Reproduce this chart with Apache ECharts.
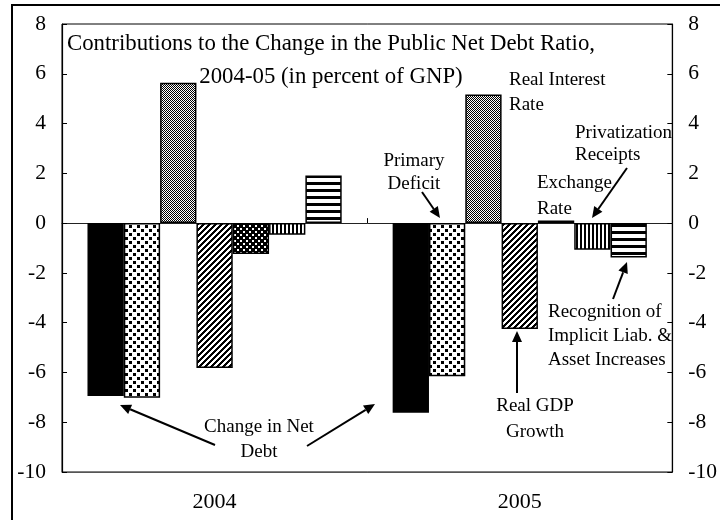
<!DOCTYPE html>
<html><head><meta charset="utf-8">
<script src="https://cdn.jsdelivr.net/npm/echarts@6/dist/echarts.min.js"></script>
<style>html,body{margin:0;padding:0;background:#fff}#c{width:720px;height:520px}</style>
</head><body><div id="c"></div>
<script>
// ---- data ----
const categories = ['2004', '2005'];
const changeInNetDebt = [-6.95, -7.62];
const primaryDeficit = [-7.02, -6.15];
const realInterestRate = [5.64, 5.17];
const realGDPGrowth = [-5.82, -4.25];
const exchangeRate = [-1.24, 0.1];
const privatizationReceipts = [-0.47, -1.07];
const recognitionImplicit = [1.91, -1.38];
const yMin = -10, yMax = 8, yStep = 2;

// ---- patterns ----
function pat(w, h, fn, bg, fg) {
  const c = document.createElement('canvas'); c.width = w; c.height = h;
  const g = c.getContext('2d');
  g.fillStyle = bg || '#fff'; g.fillRect(0, 0, w, h);
  g.fillStyle = fg || '#000';
  for (let y = 0; y < h; y++) for (let x = 0; x < w; x++) if (fn(x, y)) g.fillRect(x, y, 1, 1);
  return { image: c, repeat: 'repeat' };
}
const P = {
  solid: '#000',
  dots: pat(8, 8, (x, y) => (x >= 1 && x <= 3 && y >= 1 && y <= 3) || (x >= 5 && x <= 7 && y >= 5 && y <= 7)),
  checker: pat(2, 2, (x, y) => (x + y) % 2 === 0),
  diag: pat(6, 6, (x, y) => ((x + y) % 6) < 3),
  dense: pat(6, 6, (x, y) => !((x <= 1 && y <= 1) || (x >= 3 && x <= 4 && y >= 3 && y <= 4))),
  vert: pat(4, 1, (x, y) => x < 2),
  horiz: pat(1, 7, (x, y) => y < 3)
};

const FONT = '"Liberation Serif", "Times New Roman", serif';
function mk(name, data, color) {
  return {
    name, type: 'bar', data, xAxisIndex: 0, yAxisIndex: 0,
    barGap: '0%', barCategoryGap: '16.7%',
    itemStyle: { color, borderColor: '#000', borderWidth: 1.5 }
  };
}

function arrow(x1, y1, x2, y2) {
  const a = Math.atan2(y2 - y1, x2 - x1), L = 11, W = 5;
  const bx = x2 - L * Math.cos(a), by = y2 - L * Math.sin(a);
  const px = -Math.sin(a), py = Math.cos(a);
  return [
    { type: 'line', z: 50, shape: { x1, y1, x2: bx, y2: by }, style: { stroke: '#000', lineWidth: 2 } },
    { type: 'polygon', z: 50, shape: { points: [[x2, y2], [bx + W * px, by + W * py], [bx - W * px, by - W * py]] }, style: { fill: '#000' } }
  ];
}
function txt(text, x, y, align, size, lh) {
  return { type: 'text', z: 50, x, y, style: { text, font: size + 'px ' + FONT, fill: '#000', align, verticalAlign: 'top', lineHeight: lh } };
}

const chart = echarts.init(document.getElementById('c'), null, { renderer: 'canvas' });
const yAxisBase = {
  type: 'value', min: yMin, max: yMax, interval: yStep,
  axisLine: { show: true, lineStyle: { color: '#000', width: 1.2 } },
  axisTick: { show: true, inside: true, length: 5, lineStyle: { color: '#000' } },
  splitLine: { show: false },
  axisLabel: { color: '#000', fontFamily: FONT, fontSize: 21.5, margin: 16 }
};
chart.setOption({
  animation: false,
  backgroundColor: '#fff',
  grid: { left: 62, right: 47, top: 24, bottom: 48, show: true, borderColor: '#000', borderWidth: 1, backgroundColor: 'transparent' },
  xAxis: [
    { type: 'category', data: categories, position: 'bottom',
      axisLine: { onZero: false, lineStyle: { color: '#555' } }, axisTick: { show: false },
      axisLabel: { color: '#000', fontFamily: FONT, fontSize: 22, margin: 19 } },
    { type: 'category', data: categories, position: 'bottom',
      axisLine: { onZero: true, lineStyle: { color: '#222' } },
      axisTick: { show: true, inside: true, length: 5, lineStyle: { color: '#000' } },
      axisLabel: { show: false } }
  ],
  yAxis: [
    Object.assign({}, yAxisBase, { position: 'left' }),
    Object.assign({}, yAxisBase, { position: 'right' })
  ],
  series: [
    mk('Change in Net Debt', changeInNetDebt, P.solid),
    mk('Primary Deficit', primaryDeficit, P.dots),
    mk('Real Interest Rate', realInterestRate, P.checker),
    mk('Real GDP Growth', realGDPGrowth, P.diag),
    mk('Exchange Rate', exchangeRate, P.dense),
    mk('Privatization Receipts', privatizationReceipts, P.vert),
    mk('Recognition of Implicit Liab. & Asset Increases', recognitionImplicit, P.horiz)
  ],
  graphic: [
    { type: 'rect', z: 60, shape: { x: 12, y: 5, width: 740, height: 560 }, style: { fill: 'none', stroke: '#000', lineWidth: 2 } },
    txt('Contributions to the Change in the Public Net Debt Ratio,\n2004-05 (in percent of GNP)', 331, 28, 'center', 22.8, 32.5),
    txt('Primary\nDeficit', 414, 150, 'center', 19, 22.5),
    txt('Real Interest\nRate', 509, 67.5, 'left', 19, 25),
    txt('Privatization\nReceipts', 575, 122, 'left', 19, 22),
    txt('Exchange\nRate', 537, 170, 'left', 19, 26),
    txt('Real GDP\nGrowth', 535, 393, 'center', 19, 26),
    txt('Recognition of\nImplicit Liab. &\nAsset Increases', 548, 300, 'left', 19, 24),
    txt('Change in Net\nDebt', 259, 414.5, 'center', 19, 25),
    ...arrow(422, 192, 440, 218),
    ...arrow(627, 168, 592, 218),
    ...arrow(517, 393, 517, 331),
    ...arrow(613, 299, 627, 262),
    ...arrow(215, 445, 120, 405),
    ...arrow(307, 446, 375, 404)
  ]
});
</script>
</body></html>
